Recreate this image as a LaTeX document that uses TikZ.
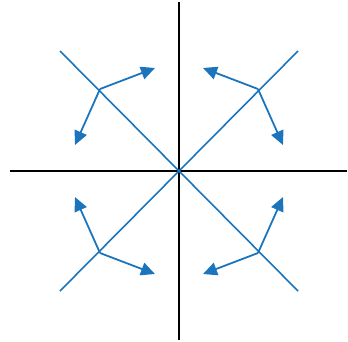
\documentclass[tikz,border=0pt]{standalone}
\usetikzlibrary{arrows.meta,calc}
\definecolor{vblue}{RGB}{28,117,188}
\begin{document}
\begin{tikzpicture}[x=1pt,y=-1pt,
  axis/.style={line width=2.8pt,black},
  diag/.style={line width=1.6pt,vblue},
  vec/.style={line width=1.8pt,vblue,-{Triangle[length=14pt,width=13pt]}}]
\useasboundingbox (0,0) rectangle (348,341);
\coordinate (O) at (179,171);
\coordinate (top) at (179,2);
\coordinate (bot) at (179,340);
\coordinate (left) at (10,171);
\coordinate (right) at (347,171);
\draw[axis] (top) -- (bot);
\draw[axis] (left) -- (right);
\foreach \sx/\sy/\n in {-1/-1/ul, 1/-1/ur, -1/1/ll, 1/1/lr}{
  \coordinate (\n e) at ($(O)+(\sx*119,\sy*120)$);
  \coordinate (\n p) at ($(O)+(\sx*79,\sy*82)$);
  \coordinate (\n a) at ($(O)+(\sx*24,\sy*103)$);
  \coordinate (\n b) at ($(O)+(\sx*104,\sy*26)$);
  \draw[diag] (O) -- (\n e);
  \draw[vec] (\n p) -- (\n a);
  \draw[vec] (\n p) -- (\n b);
}
\end{tikzpicture}
\end{document}
